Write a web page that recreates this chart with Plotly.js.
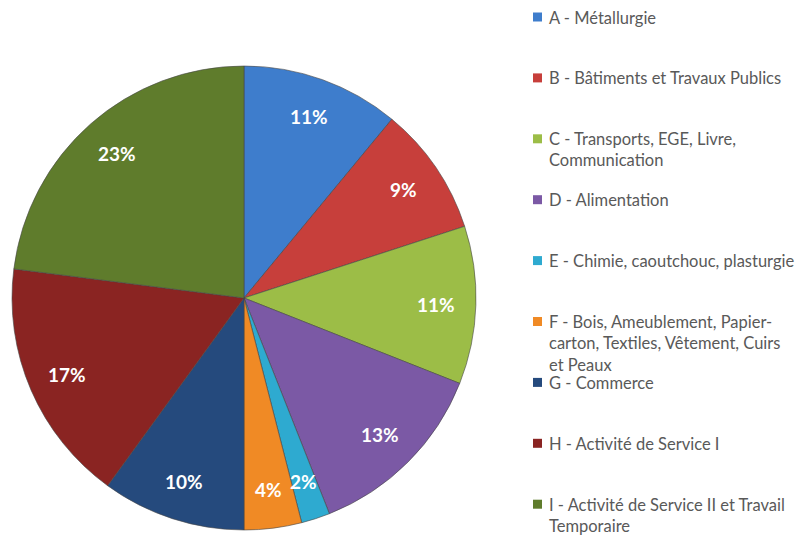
<!DOCTYPE html>
<html>
<head>
<meta charset="utf-8">
<script src="https://cdn.plot.ly/plotly-3.0.1.min.js"></script>
<style>
  html, body { margin: 0; padding: 0; background: #ffffff; }
  #chart { width: 805px; height: 537px; }
</style>
</head>
<body>
<div id="chart"></div>
<script>
/*global Plotly */
var sector_labels = [
  'A - Métallurgie',
  'B - Bâtiments et Travaux Publics',
  'C - Transports, EGE, Livre, Communication',
  'D - Alimentation',
  'E - Chimie, caoutchouc, plasturgie',
  'F - Bois, Ameublement, Papier-carton, Textiles, Vêtement, Cuirs et Peaux',
  'G - Commerce',
  'H - Activité de Service I',
  'I - Activité de Service II et Travail Temporaire'
];
// legend text as wrapped in the original
var legend_lines = [
  'A - Métallurgie',
  'B - Bâtiments et Travaux Publics',
  'C - Transports, EGE, Livre,<br>Communication',
  'D - Alimentation',
  'E - Chimie, caoutchouc, plasturgie',
  'F - Bois, Ameublement, Papier-<br>carton, Textiles, Vêtement, Cuirs<br>et Peaux',
  'G - Commerce',
  'H - Activité de Service I',
  'I - Activité de Service II et Travail<br>Temporaire'
];
var sector_pct = [11, 9, 11, 13, 2, 4, 10, 17, 23];
var sector_colors = [
  '#3e7dcc', '#c73f3b', '#9cbd47', '#7b59a5', '#2eaad0',
  '#f08a25', '#254a7d', '#8a2422', '#5f7c2c'
];

(function (window, Plotly) {
  'use strict';

  var W = 805,
    H = 537,
    PIE_X0 = 12,
    PIE_X1 = 476,
    PIE_TOP = 66,
    PIE_BOTTOM = 530;

  function py(pixel_y) {
    return (H - pixel_y) / H;
  }

  function getLegendDecor() {
    var annotations = [],
      shapes = [],
      i,
      cy;

    for (i = 0; i < legend_lines.length; i += 1) {
      cy = 17 + i * 60.9;
      annotations.push({
        text: legend_lines[i],
        xref: 'paper',
        yref: 'paper',
        x: 547 / W,
        y: py(cy - 11.5),
        xanchor: 'left',
        yanchor: 'top',
        align: 'left',
        showarrow: false,
        font: {family: 'Lato, sans-serif', size: 16.5, color: '#595959'}
      });
      shapes.push({
        type: 'rect',
        xref: 'paper',
        yref: 'paper',
        x0: 533 / W,
        x1: 542 / W,
        y0: py(cy + 4.5),
        y1: py(cy - 4.5),
        fillcolor: sector_colors[i],
        line: {width: 0}
      });
    }
    return {annotations: annotations, shapes: shapes};
  }

  // percent labels sit further out than plotly's inside text, like Excel
  function getSliceLabels() {
    var total = 0,
      acc = 0,
      list = [],
      cx = (PIE_X0 + PIE_X1) / 2,
      cy = (PIE_TOP + PIE_BOTTOM) / 2,
      radius = (PIE_X1 - PIE_X0) / 2,
      i,
      mid,
      r;

    sector_pct.forEach(function (v) {
      total += v;
    });
    for (i = 0; i < sector_pct.length; i += 1) {
      mid = (acc + sector_pct[i] / 2) / total * 2 * Math.PI;
      acc += sector_pct[i];
      r = radius * 0.83;
      list.push({
        text: '<b>' + sector_pct[i] + '%</b>',
        xref: 'paper',
        yref: 'paper',
        x: (cx + r * Math.sin(mid)) / W,
        y: py(cy - r * Math.cos(mid)),
        xanchor: 'center',
        yanchor: 'middle',
        showarrow: false,
        font: {family: 'Lato, sans-serif', size: 19, color: '#ffffff'}
      });
    }
    return list;
  }

  var decor = getLegendDecor();

  var data = [{
    type: 'pie',
    labels: sector_labels,
    values: sector_pct,
    sort: false,
    direction: 'clockwise',
    rotation: 0,
    textinfo: 'none',
    marker: {
      colors: sector_colors,
      line: {color: 'rgba(70,70,70,0.6)', width: 1}
    },
    domain: {x: [PIE_X0 / W, PIE_X1 / W], y: [py(PIE_BOTTOM), py(PIE_TOP)]},
    hoverinfo: 'label+percent'
  }];

  var layout = {
    width: W,
    height: H,
    margin: {l: 0, r: 0, t: 0, b: 0},
    paper_bgcolor: '#ffffff',
    showlegend: false,
    annotations: decor.annotations.concat(getSliceLabels()),
    shapes: decor.shapes
  };

  Plotly.newPlot('chart', data, layout, {displayModeBar: false});
}(window, Plotly));
</script>
</body>
</html>
